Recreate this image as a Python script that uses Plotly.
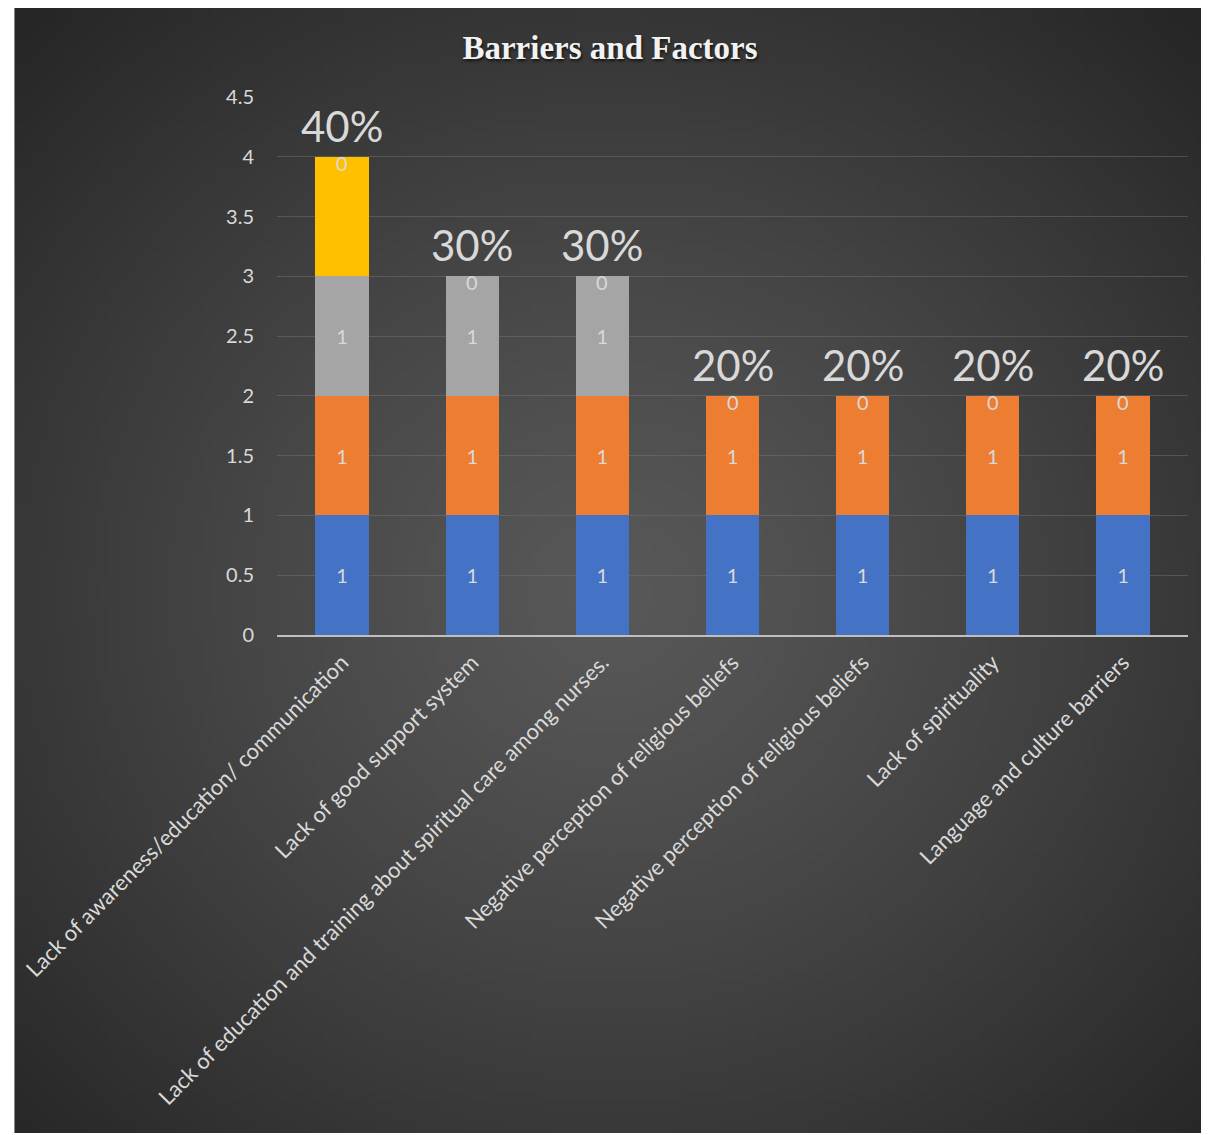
import base64, struct, zlib
import plotly.graph_objects as go

# ---------------- data ----------------
categories = [
    "Lack of awareness/education/ communication",
    "Lack of good support system",
    "Lack of education and training about spiritual care among nurses.",
    "Negative perception of religious beliefs",
    "Negative perception of religious beliefs",
    "Lack of spirituality",
    "Language and culture barriers",
]
series_blue = [1, 1, 1, 1, 1, 1, 1]
series_orange = [1, 1, 1, 1, 1, 1, 1]
series_gray = [1, 1, 1, 0, 0, 0, 0]
series_gold = [1, 0, 0, 0, 0, 0, 0]
series_top = [0, 0, 0, 0, 0, 0, 0]
percent_labels = ["40%", "30%", "30%", "20%", "20%", "20%", "20%"]
y_ticks = [0, 0.5, 1, 1.5, 2, 2.5, 3, 3.5, 4, 4.5]

# ---------------- geometry (page has an 8px body margin) ----------------
OFF = 8
W, H = 1209 - OFF, 1135 - OFF
ML, MR, MT, MB = 272 - OFF, 21, 97 - OFF, 500
PW, PH = W - ML - MR, H - MT - MB
BG_X0, BG_Y0, BG_X1, BG_Y1 = 0, 0, 1207 - OFF, 1133 - OFF
FONT = "Lato"
LABEL_COL = "#d9d9d9"


def radial_png(w, h, c_in, c_out):
    rows = []
    for j in range(h):
        row = bytearray([0])
        dy = (j + 0.5) / h - 0.52
        for i in range(w):
            dx = (i + 0.5) / w - 0.5
            d = ((dx / 0.5) ** 2 + (dy / 0.5) ** 2) ** 0.5 / 1.41
            t = min(1.0, d) ** 1.2
            row += bytes(int(round(a + (b - a) * t)) for a, b in zip(c_in, c_out))
        rows.append(bytes(row))
    raw = b"".join(rows)

    def chunk(tag, data):
        c = struct.pack(">I", len(data)) + tag + data
        return c + struct.pack(">I", zlib.crc32(tag + data) & 0xFFFFFFFF)

    png = b"\x89PNG\r\n\x1a\n"
    png += chunk(b"IHDR", struct.pack(">IIBBBBB", w, h, 8, 2, 0, 0, 0))
    png += chunk(b"IDAT", zlib.compress(raw, 9))
    png += chunk(b"IEND", b"")
    return "data:image/png;base64," + base64.b64encode(png).decode()


bg_src = radial_png(160, 150, (88, 88, 88), (38, 38, 38))

x = list(range(len(categories)))
totals = [a + b + c + d + e for a, b, c, d, e in
          zip(series_blue, series_orange, series_gray, series_gold, series_top)]

fig = go.Figure()
for vals, color, show_text in [
    (series_blue, "#4472C4", True),
    (series_orange, "#ED7D31", True),
    (series_gray, "#A5A5A5", True),
    (series_gold, "#FFC000", False),
]:
    fig.add_trace(go.Bar(
        x=x, y=vals,
        marker=dict(color=color, line=dict(width=0)),
        text=[str(v) if (v and show_text) else "" for v in vals],
        textposition="inside", insidetextanchor="middle",
        textfont=dict(family=FONT, size=20, color=LABEL_COL),
        textangle=0, hoverinfo="skip",
    ))

annotations = []
for xi, tot, z in zip(x, totals, series_top):
    annotations.append(dict(x=xi, y=tot, xref="x", yref="y", text=str(z),
                            showarrow=False, yanchor="middle", yshift=-6,
                            font=dict(family=FONT, size=20, color=LABEL_COL)))
for xi, tot, p in zip(x, totals, percent_labels):
    annotations.append(dict(x=xi, y=tot, xref="x", yref="y", text=p,
                            showarrow=False, yanchor="bottom", yshift=4,
                            font=dict(family=FONT, size=42, color=LABEL_COL)))

fig.update_layout(
    width=W, height=H,
    margin=dict(l=ML, r=MR, t=MT, b=MB, pad=0),
    paper_bgcolor="white",
    plot_bgcolor="rgba(0,0,0,0)",
    barmode="stack", bargap=0.59,
    showlegend=False,
    title=dict(
        text="<b>Barriers and Factors</b>",
        xref="container", yref="container",
        x=(610 - OFF) / W, y=1 - (47 - OFF) / H,
        xanchor="center", yanchor="middle",
        font=dict(family="Liberation Serif", size=33, color="#f2f2f2",
                  shadow="1px 2px 3px rgba(0,0,0,0.7)"),
    ),
    annotations=annotations,
    images=[dict(
        source=bg_src, xref="paper", yref="paper",
        x=(BG_X0 - ML) / PW, y=1 + (MT - BG_Y0) / PH,
        sizex=(BG_X1 - BG_X0) / PW, sizey=(BG_Y1 - BG_Y0) / PH,
        xanchor="left", yanchor="top", sizing="stretch", layer="below",
    )],
    xaxis=dict(
        tickmode="array", tickvals=x, ticktext=categories,
        tickangle=-45, tickfont=dict(family=FONT, size=22, color=LABEL_COL),
        showgrid=False, zeroline=False, showline=True,
        linecolor="#bfbfbf", linewidth=2, ticks="",
        range=[-0.5, len(categories) - 0.5], ticklabelstandoff=4,
    ),
    yaxis=dict(
        range=[0, 4.5], tickmode="array", tickvals=y_ticks,
        ticktext=[f"{v:g}" for v in y_ticks],
        tickfont=dict(family=FONT, size=20, color=LABEL_COL),
        showgrid=True, gridcolor="rgba(120,120,120,0.45)", gridwidth=1,
        zeroline=False, showline=False, ticks="", ticklabelstandoff=22,
    ),
)

fig.write_html("out.html")
